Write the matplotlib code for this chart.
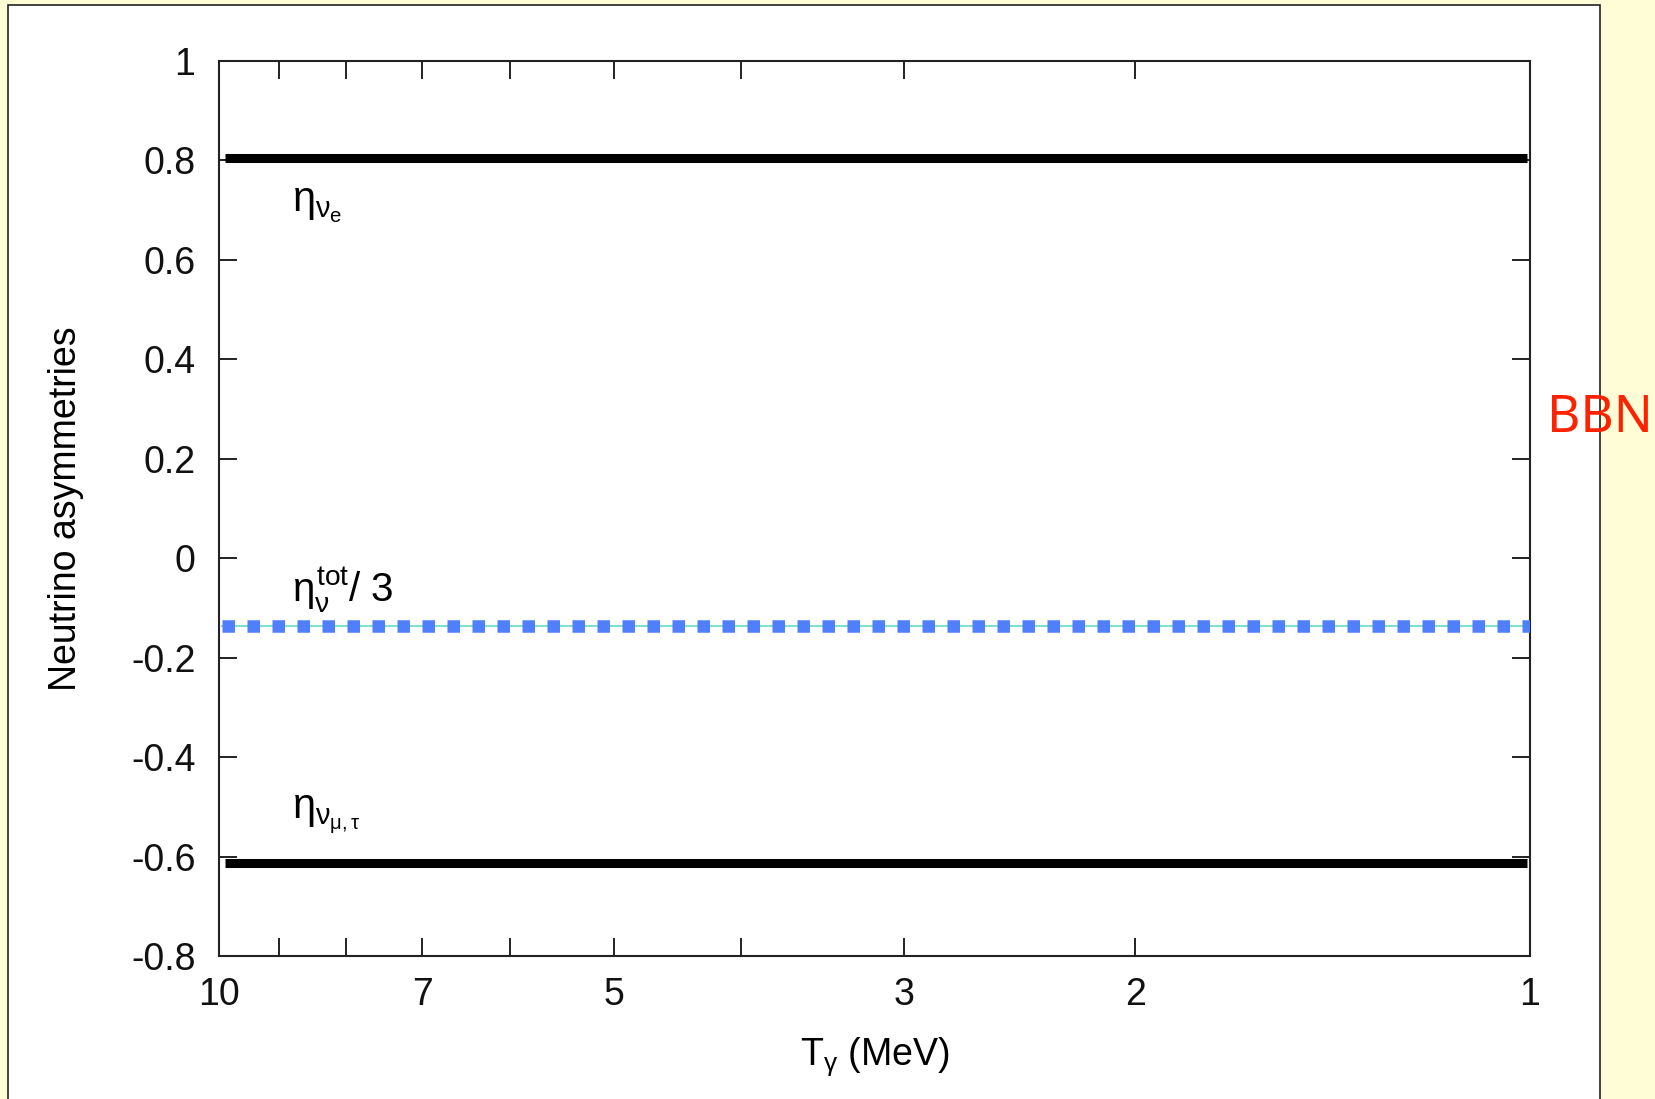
import matplotlib
matplotlib.use("Agg")
import matplotlib.pyplot as plt
from matplotlib.patches import Rectangle
import numpy as np

# ---- data ----
T_range = [10.0, 1.0]
eta_nue = [0.805, 0.805]
eta_numutau = [-0.612, -0.612]
eta_tot3 = [-0.137, -0.137]
xticks_major = [10, 7, 5, 3, 2, 1]
xticks_minor = [9, 8, 6, 4]
yticks = [-0.8, -0.6, -0.4, -0.2, 0, 0.2, 0.4, 0.6, 0.8, 1]

plt.rcParams['font.family'] = ['Liberation Sans', 'DejaVu Sans']
plt.rcParams['mathtext.fontset'] = 'custom'
plt.rcParams['mathtext.rm'] = 'Liberation Sans'
plt.rcParams['mathtext.it'] = 'Liberation Sans'
plt.rcParams['mathtext.bf'] = 'Liberation Sans:bold'

W, H = 1656, 1099
fig = plt.figure(figsize=(W/100, H/100), dpi=100)
fig.patch.set_facecolor('#FFFDD6')
fig.patches.append(Rectangle((8/W, -0.01), (1600-8)/W, 1 - 5/H + 0.01,
                             transform=fig.transFigure, facecolor='white',
                             edgecolor='#222222', linewidth=1.2, zorder=-10))

ax = fig.add_axes([219/W, 1-956/H, (1530-219)/W, (956-61)/H])
ax.set_zorder(5)
ax.set_facecolor('white')
ax.set_xscale('log')
ax.set_xlim(10, 1)
ax.set_ylim(-0.8, 1)

# lines
ax.plot([9.9, 1.005], eta_nue, color='black', lw=6.5, solid_capstyle='butt', zorder=3)
ax.plot([9.9, 1.005], eta_numutau, color='black', lw=6.5, solid_capstyle='butt', zorder=3)
ax.plot([9.95, 1.0], eta_tot3, color='#80E0D0', lw=1.5, zorder=2)
ax.plot([9.95, 1.0], eta_tot3, color='#4F7FFA', lw=9.0, linestyle=(0, (1, 1)),
        dash_capstyle='butt', solid_capstyle='butt', zorder=3)

# ticks
ax.set_xticks(xticks_major)
ax.set_xticklabels([str(t) for t in xticks_major])
ax.set_xticks(xticks_minor, minor=True)
ax.set_xticklabels([], minor=True)
ax.set_yticks(yticks)
ax.set_yticklabels(['-0.8', '-0.6', '-0.4', '-0.2', '0', '0.2', '0.4', '0.6', '0.8', '1'])
ax.tick_params(axis='both', which='both', direction='in', length=13, width=1.3,
               top=True, right=True, labelsize=27, colors='#111111')
ax.tick_params(axis='x', which='both', pad=15)
ax.tick_params(axis='y', pad=17)
for s in ax.spines.values():
    s.set_linewidth(1.5)
    s.set_color('#222222')

ax.set_xlabel(r'T$_{\gamma}$ (MeV)', fontsize=27, labelpad=16)
ax.set_ylabel('Neutrino asymmetries', fontsize=27, labelpad=34)

# annotations
ax.text(8.8, 0.71, r'$\eta_{\nu_e}$', fontsize=30, ha='left', va='center')
ax.text(8.8, -0.065, r'$\eta_{\nu}^{\rm tot}$/ 3', fontsize=29, ha='left', va='center')
ax.text(8.8, -0.515, r'$\eta_{\nu_{\mu,\tau}}$', fontsize=30, ha='left', va='center')

fig.text(1547/W, 1-432/H, 'BBN', color='#FF2200', fontsize=37,
         family=['Noto Sans', 'DejaVu Sans'], ha='left', va='baseline')

fig.savefig('out.png', dpi=100, facecolor=fig.get_facecolor())
